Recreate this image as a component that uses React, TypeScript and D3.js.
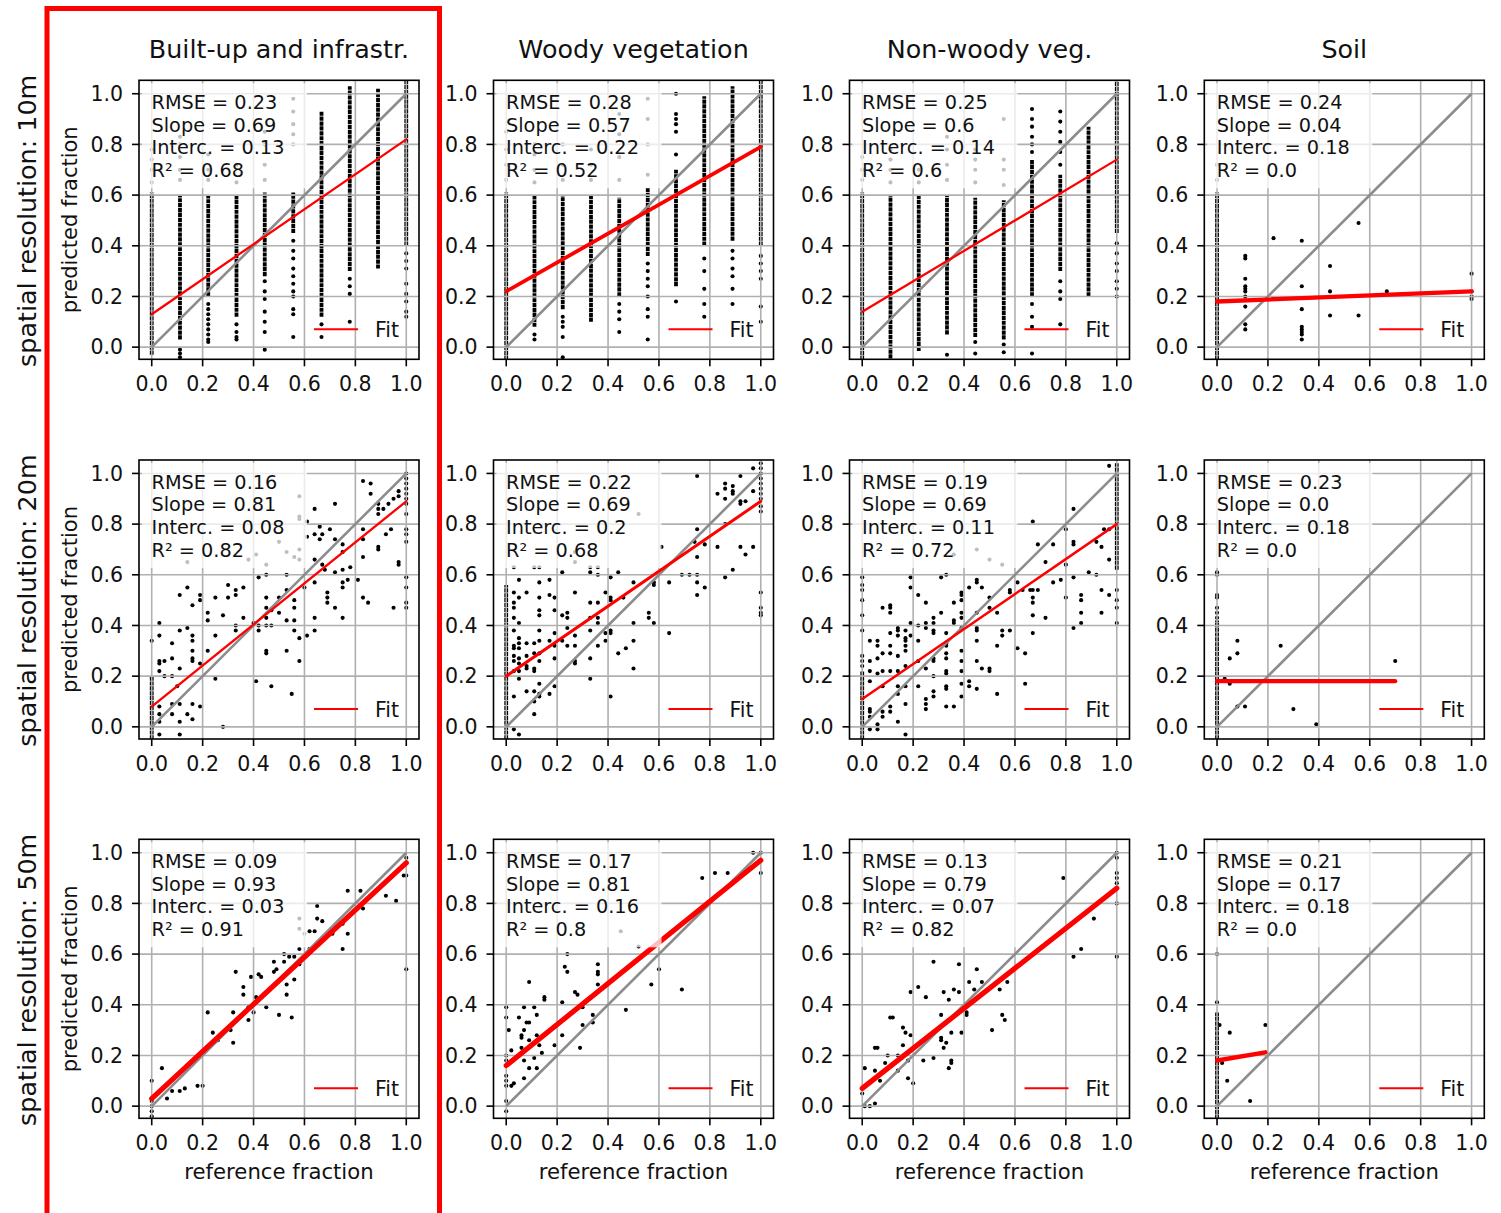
import React from "react";
import * as d3 from "d3";

// ---------------- DATA ----------------
const columnTitles = ["Built-up and infrastr.", "Woody vegetation", "Non-woody veg.", "Soil"];
const rowLabels = ["spatial resolution: 10m", "spatial resolution: 20m", "spatial resolution: 50m"];
const tickValues = [0, 0.2, 0.4, 0.6, 0.8, 1.0];

const rmseValues = [[0.23, 0.28, 0.25, 0.24], [0.16, 0.22, 0.19, 0.23], [0.09, 0.17, 0.13, 0.21]];
const slopeValues = [[0.69, 0.57, 0.6, 0.04], [0.81, 0.69, 0.69, 0.0], [0.93, 0.81, 0.79, 0.17]];
const intercValues = [[0.13, 0.22, 0.14, 0.18], [0.08, 0.2, 0.11, 0.18], [0.03, 0.16, 0.07, 0.18]];
const r2Values = [[0.68, 0.52, 0.6, 0.0], [0.82, 0.68, 0.72, 0.0], [0.91, 0.8, 0.82, 0.0]];

// dense runs of overlapping points: [x, yFrom, yTo]
const builtUp10Runs = [[0, -0.03, 0.61], [0.111, 0.03, 0.6], [0.222, 0.2, 0.6], [0.333, 0.12, 0.6], [0.444, 0.28, 0.61], [0.556, 0.45, 0.61], [0.667, 0.12, 0.93], [0.778, 0.3, 1.03], [0.889, 0.31, 1.02], [1, 0.4, 1.06]];
const woody10Runs = [[0, -0.05, 0.61], [0.111, 0.08, 0.6], [0.222, 0.15, 0.6], [0.333, 0.1, 0.6], [0.444, 0.2, 0.59], [0.556, 0.36, 0.63], [0.667, 0.24, 0.7], [0.778, 0.4, 0.99], [0.889, 0.42, 1.03], [1, 0.4, 1.06]];
const nonWoody10Runs = [[0, -0.05, 0.61], [0.111, -0.045, 0.6], [0.222, -0.015, 0.6], [0.333, 0.05, 0.6], [0.444, 0.04, 0.59], [0.556, 0.03, 0.58], [0.667, 0.2, 0.74], [0.778, 0.3, 0.68], [0.889, 0.2, 0.87], [1, 0.45, 1.06]];
const soil10Runs = [[0, -0.05, 0.61]];
const builtUp20Runs = [[0, -0.05, 0.2]];
const woody20Runs = [[0, -0.05, 0.56]];
const nonWoody20Runs = [[0, -0.05, 0.22], [1, 0.62, 1.04]];
const soil20Runs = [[0, -0.05, 0.42]];
const builtUp50Runs = [];
const woody50Runs = [];
const nonWoody50Runs = [];
const soil50Runs = [[0, -0.05, 0.37]];

// single points grouped by column (10m): [x, [y...]]
const builtUp10Cols = [
  [0, [0.65, 0.7, 0.74, 0.78]],
  [0.111, [-0.01, -0.025, -0.04, 0.66, 0.7, 0.75, 0.8, 0.83]],
  [0.222, [0.17, 0.15, 0.13, 0.11, 0.09, 0.07, 0.05, 0.03, 0.02, 0.66, 0.7, 0.76]],
  [0.333, [0.09, 0.06, 0.04, 0.03, 0.65, 0.72]],
  [0.444, [0.26, 0.22, 0.19, 0.14, 0.1, 0.06, -0.01, 0.66, 0.72, 0.8, 0.85]],
  [0.556, [0.42, 0.38, 0.35, 0.31, 0.28, 0.25, 0.22, 0.2, 0.15, 0.13, 0.04, 0.8, 0.84, 0.88, 0.93, 0.98]],
  [0.667, [0.09, 0.04]],
  [0.778, [0.27, 0.24, 0.21, 0.1]],
  [1, [0.37, 0.34, 0.31, 0.25, 0.21, 0.18, 0.14, 0.12]],
];
const woody10Cols = [
  [0, [0.66, 0.72, 0.78, 0.85]],
  [0.111, [0.05, 0.03, 0.65, 0.7, 0.76, 0.8]],
  [0.222, [0.12, 0.1, 0.08, 0.04, -0.04, 0.66, 0.72, 0.8]],
  [0.333, [0.66, 0.72, 0.78]],
  [0.444, [0.17, 0.14, 0.11, 0.06, 0.66, 0.75, 0.84, 0.92]],
  [0.556, [0.33, 0.3, 0.27, 0.24, 0.2, 0.15, 0.12, 0.03, 0.68, 0.8, 0.9, 0.98]],
  [0.667, [1.0, 0.92, 0.9, 0.88, 0.85, 0.76, 0.18]],
  [0.778, [0.35, 0.3, 0.23, 0.17, 0.12]],
  [0.889, [0.38, 0.35, 0.31, 0.28, 0.23, 0.17]],
  [1, [0.36, 0.33, 0.3, 0.27, 0.16, 0.1]],
];
const nonWoody10Cols = [
  [0, [0.66, 0.7, 0.75]],
  [0.111, [0.65, 0.7, 0.74, 0.78]],
  [0.222, [0.65, 0.7]],
  [0.333, [-0.03, 0.66, 0.72, 0.78, 0.83]],
  [0.444, [0.02, -0.025, 0.65, 0.7, 0.74, 0.78]],
  [0.556, [0.01, -0.02, 0.64, 0.7, 0.74, 0.9]],
  [0.667, [0.94, 0.9, 0.87, 0.83, 0.8, 0.77, 0.17, 0.12, 0.08, -0.025]],
  [0.778, [0.93, 0.89, 0.85, 0.81, 0.77, 0.72, 0.26, 0.22, 0.19, 0.09]],
  [1, [0.41, 0.37, 0.33, 0.3, 0.26, 0.23, 0.2]],
];
const soil10Cols = [
  [0, [0.66, 0.72]],
  [0.111, [0.36, 0.35, 0.27, 0.24, 0.23, 0.22, 0.2, 0.16, 0.09, 0.07]],
  [0.222, [0.43, 0.19]],
  [0.333, [0.42, 0.24, 0.15, 0.08, 0.07, 0.06, 0.05, 0.03]],
  [0.444, [0.32, 0.22, 0.125]],
  [0.556, [0.49, 0.125]],
  [0.667, [0.22]],
  [1, [0.29, 0.22, 0.2, 0.19]],
];

// scattered points: [x, y]
const builtUp20Points = [
  [0.83, 0.97], [0.86, 0.96], [0.86, 0.92], [0.97, 0.93], [0.97, 0.91], [0.95, 0.9], [0.93, 0.88], [0.89, 0.88], [0.89, 0.86], [0.89, 0.84], [0.91, 0.86], [0.72, 0.88], [0.58, 0.91], [0.58, 0.83], [0.58, 0.82], [0.64, 0.86], [0.61, 0.81], [0.83, 0.78], [0.94, 0.78], [0.83, 0.74], [0.92, 0.76], [0.89, 0.71], [0.89, 0.7], [0.97, 0.65], [0.97, 0.64], [0.83, 0.67], [0.75, 0.72], [0.66, 0.79], [0.7, 0.78], [0.67, 0.76], [0.64, 0.76], [0.61, 0.75], [0.66, 0.74], [0.72, 0.74], [0.75, 0.69], [0.58, 0.7], [0.58, 0.66], [0.64, 0.66], [0.67, 0.64], [0.68, 0.62], [0.72, 0.61], [0.78, 0.63], [0.75, 0.62], [0.77, 0.58], [0.75, 0.57], [0.75, 0.55], [0.81, 0.58], [0.83, 0.51], [0.85, 0.49], [0.95, 0.47],
  [0.69, 0.53], [0.69, 0.51], [0.69, 0.49], [0.72, 0.47], [0.75, 0.43], [0.64, 0.57], [0.6, 0.55], [0.64, 0.43], [0.64, 0.38], [0.61, 0.36], [0.58, 0.35], [0.58, 0.26], [0.56, 0.5], [0.56, 0.47], [0.56, 0.42], [0.56, 0.38], [0.53, 0.42], [0.53, 0.54], [0.53, 0.6], [0.56, 0.67], [0.55, 0.13], [0.53, 0.3], [0.5, 0.51], [0.5, 0.45], [0.47, 0.46], [0.47, 0.4], [0.45, 0.6], [0.42, 0.59], [0.45, 0.51], [0.45, 0.47], [0.45, 0.43], [0.45, 0.4], [0.45, 0.3], [0.45, 0.29], [0.42, 0.4], [0.42, 0.38], [0.4, 0.41], [0.47, 0.16], [0.41, 0.18], [0.36, 0.55], [0.33, 0.54], [0.33, 0.52], [0.33, 0.4], [0.33, 0.38], [0.36, 0.43], [0.3, 0.56], [0.3, 0.51], [0.28, 0.44], [0.25, 0.36], [0.25, 0.51], [0.25, 0.19], [0.22, 0.45], [0.22, 0.42], [0.22, 0.3], [0.19, 0.52], [0.19, 0.5], [0.16, 0.48], [0.16, 0.36], [0.16, 0.34], [0.16, 0.3], [0.16, 0.27], [0.16, 0.26], [0.19, 0.25], [0.14, 0.55], [0.11, 0.52], [0.11, 0.38], [0.14, 0.39], [0.08, 0.33], [0.08, 0.27], [0.11, 0.23], [0.05, 0.26], [0.03, 0.26], [0.03, 0.25], [0.03, 0.36], [0.03, 0.41], [0, 0.34], [0.03, 0.22], [0.05, 0.2], [0.08, 0.2], [0.1, 0.16], [0.11, 0.09], [0.08, 0.09], [0.08, 0.05], [0.11, 0.02], [0.14, 0.05], [0.16, 0.09], [0.19, 0.08], [0.16, 0.03], [0.03, 0.08], [0.03, 0.05], [0.03, 0.02], [0.03, -0.03], [0.11, -0.03], [0.28, 0],
  [0.14, 0.65], [0.38, 0.66], [0.41, 0.68], [0.45, 0.64], [0.5, 0.73], [0.53, 0.69],
  [1, 1.0], [1, 0.98], [1, 0.96], [1, 0.94], [1, 0.92], [1, 0.9], [1, 0.88], [1, 0.84], [1, 0.78], [1, 0.76], [1, 0.73], [1, 0.59], [1, 0.55], [1, 0.49], [1, 0.47],
];
const woody20Points = [
  [0.97, 1.02], [0.75, 0.99], [0.89, 0.95], [0.86, 0.96], [0.86, 0.94], [0.89, 0.93], [0.89, 0.92], [0.83, 0.92], [0.92, 0.89], [0.92, 0.88], [0.97, 0.93], [0.94, 0.89], [0.86, 0.9], [0.92, 0.99], [0.86, 0.8], [0.75, 0.78], [0.78, 0.72], [0.74, 0.73], [0.61, 0.71], [0.83, 0.71], [0.92, 0.71], [0.97, 0.71], [0.94, 0.68], [0.89, 0.62], [0.86, 0.59], [0.75, 0.67], [0.78, 0.55], [0.75, 0.57], [0.75, 0.52], [0.69, 0.6], [0.72, 0.6], [0.75, 0.6], [0.64, 0.57], [0.64, 0.37], [0.58, 0.57], [0.58, 0.56], [0.56, 0.45], [0.56, 0.43], [0.58, 0.41], [0.5, 0.57], [0.46, 0.51], [0.5, 0.41], [0.5, 0.34], [0.5, 0.23], [0.47, 0.31], [0.44, 0.29], [0.41, 0.59], [0.41, 0.51], [0.41, 0.5], [0.41, 0.38], [0.41, 0.37], [0.41, 0.12], [0.39, 0.53], [0.39, 0.37], [0.39, 0.34], [0.36, 0.49], [0.36, 0.43], [0.36, 0.41], [0.36, 0.32], [0.36, 0.6], [0.33, 0.61], [0.33, 0.49], [0.33, 0.38], [0.33, 0.27], [0.33, 0.19], [0.33, 0.43], [0.44, 0.61], [0.27, 0.53], [0.27, 0.36], [0.27, 0.32], [0.27, 0.26], [0.27, 0.25], [0.24, 0.45], [0.24, 0.43], [0.24, 0.39], [0.22, 0.44], [0.22, 0.34], [0.24, 0.32], [0.19, 0.51], [0.19, 0.46], [0.19, 0.37], [0.19, 0.32], [0.19, 0.27], [0.19, 0.16], [0.17, 0.58], [0.17, 0.52], [0.17, 0.34], [0.17, 0.13], [0.13, 0.57], [0.13, 0.51], [0.13, 0.46], [0.13, 0.44], [0.13, 0.38], [0.13, 0.34], [0.13, 0.29], [0.13, 0.26], [0.13, 0.17], [0.13, 0.13], [0.13, 0.12], [0.11, 0.33], [0.11, 0.29], [0.11, 0.23], [0.11, 0.22], [0.11, 0.14], [0.11, 0.1], [0.11, 0.05], [0.08, 0.53], [0.08, 0.33], [0.08, 0.28], [0.08, 0.24], [0.08, 0.23], [0.08, 0.14], [0.05, 0.58], [0.05, 0.51], [0.05, 0.41], [0.05, 0.35], [0.05, 0.33], [0.05, 0.31], [0.05, 0.27], [0.05, 0.25], [0.05, 0.22], [0.05, 0.19], [0.05, -0.03], [0.03, 0.53], [0.03, 0.49], [0.03, 0.47], [0.03, 0.43], [0.03, 0.38], [0.03, 0.32], [0.03, 0.31], [0.03, 0.28], [0.03, 0.26], [0.03, 0.22], [0.03, 0.12], [0.03, -0.01],
  [0.03, 0.63], [0.11, 0.63], [0.13, 0.63], [0.27, 0.65], [0.27, 0.69], [0.22, 0.61], [0.33, 0.63], [0.36, 0.63], [0.52, 0.84],
  [1, 1.04], [1, 1.02], [1, 1.0], [1, 0.98], [1, 0.96], [1, 0.94], [1, 0.92], [1, 0.9], [1, 0.87], [1, 0.85], [1, 0.53], [1, 0.47], [1, 0.45], [1, 0.44],
];
const nonWoody20Points = [
  [0.97, 1.03], [0.83, 0.86], [0.67, 0.81], [0.8, 0.78], [0.83, 0.73], [0.83, 0.72], [0.92, 0.73], [0.97, 0.78], [0.95, 0.78], [0.69, 0.72], [0.75, 0.72], [0.94, 0.71], [0.97, 0.66], [0.72, 0.65], [0.8, 0.64], [0.89, 0.61], [0.92, 0.6], [0.83, 0.59], [0.78, 0.58], [0.75, 0.57], [0.61, 0.57], [0.58, 0.54], [0.58, 0.53], [0.67, 0.54], [0.66, 0.54], [0.69, 0.54], [0.8, 0.51], [0.86, 0.52], [0.86, 0.5], [0.86, 0.45], [0.86, 0.41], [0.83, 0.39], [0.94, 0.54], [0.97, 0.52], [0.94, 0.45], [0.67, 0.51], [0.67, 0.49], [0.67, 0.44], [0.67, 0.37], [0.72, 0.43], [0.63, 0.54], [0.55, 0.38], [0.55, 0.36], [0.58, 0.38], [0.61, 0.31], [0.64, 0.29], [0.64, 0.17], [0.53, 0.45], [0.53, 0.32], [0.53, 0.13], [0.5, 0.47], [0.5, 0.51], [0.5, 0.23], [0.5, 0.22], [0.47, 0.55], [0.47, 0.23], [0.45, 0.58], [0.45, 0.57], [0.45, 0.45], [0.45, 0.39], [0.45, 0.38], [0.45, 0.34], [0.45, 0.26], [0.45, 0.15], [0.42, 0.55], [0.42, 0.18], [0.42, 0.16], [0.39, 0.53], [0.39, 0.52], [0.39, 0.5], [0.39, 0.45], [0.39, 0.43], [0.39, 0.39], [0.39, 0.3], [0.39, 0.26], [0.39, 0.22], [0.39, 0.17], [0.39, 0.12], [0.36, 0.49], [0.36, 0.42], [0.36, 0.41], [0.36, 0.08], [0.33, 0.6], [0.33, 0.37], [0.33, 0.33], [0.33, 0.32], [0.33, 0.29], [0.33, 0.27], [0.33, 0.22], [0.33, 0.21], [0.33, 0.16], [0.33, 0.15], [0.33, 0.08], [0.31, 0.59], [0.31, 0.45], [0.28, 0.43], [0.28, 0.41], [0.28, 0.38], [0.28, 0.37], [0.28, 0.27], [0.28, 0.26], [0.28, 0.2], [0.28, 0.14], [0.28, 0.12], [0.25, 0.49], [0.25, 0.41], [0.25, 0.39], [0.25, 0.23], [0.25, 0.11], [0.25, 0.09], [0.25, 0.07], [0.22, 0.52], [0.22, 0.4], [0.22, 0.34], [0.22, 0.26], [0.22, 0.16], [0.19, 0.59], [0.19, 0.55], [0.19, 0.41], [0.19, 0.36], [0.17, 0.38], [0.17, 0.35], [0.17, 0.34], [0.17, 0.32], [0.17, 0.3], [0.17, 0.24], [0.17, 0.16], [0.17, 0.09], [0.17, -0.03], [0.14, 0.39], [0.14, 0.38], [0.14, 0.36], [0.14, 0.28], [0.14, 0.22], [0.14, 0.16], [0.14, 0.13], [0.14, 0.02], [0.11, 0.48], [0.11, 0.47], [0.11, 0.45], [0.11, 0.37], [0.11, 0.32], [0.11, 0.29], [0.11, 0.22], [0.11, 0.08], [0.11, 0.06], [0.08, 0.47], [0.08, 0.29], [0.08, 0.22], [0.08, 0.16], [0.08, 0.06], [0.08, 0.04], [0.06, 0.34], [0.06, 0.32], [0.06, 0.27], [0.06, 0.21], [0.06, 0.01], [0.06, -0.01], [0.03, 0.34], [0.03, 0.26], [0.03, 0.22], [0.03, 0.18], [0.03, 0.07], [0.03, 0.06], [0.03, 0.04], [0.03, -0.01],
  [0.36, 0.68], [0.45, 0.7], [0.5, 0.66], [0.55, 0.64],
  [0, 0.59], [0, 0.56], [0, 0.54], [0, 0.5], [0, 0.44], [0, 0.38], [0, 0.28], [0, 0.26], [0, 0.24],
  [1, 0.54], [1, 0.5], [1, 0.47], [1, 0.41],
];
const soil20Points = [
  [0, 0.43], [0, 0.45], [0, 0.47], [0, 0.51], [0, 0.52], [0, 0.6], [0, 0.61],
  [0.08, 0.34], [0.08, 0.29], [0.05, 0.27], [0.25, 0.32], [0.7, 0.26], [0.03, 0.19], [0.05, 0.17], [0.08, 0.08], [0.11, 0.08], [0.3, 0.07], [0.39, 0.01],
];
const builtUp50Points = [
  [1, 0.98], [0.99, 0.91], [1, 0.91], [1, 0.54], [0.92, 0.83], [0.96, 0.81], [0.77, 0.85], [0.82, 0.85], [0.83, 0.78], [0.65, 0.79], [0.58, 0.74], [0.65, 0.74], [0.67, 0.73], [0.58, 0.7], [0.6, 0.68], [0.62, 0.69], [0.64, 0.69], [0.71, 0.68], [0.77, 0.68], [0.75, 0.72], [0.75, 0.62], [0.58, 0.62], [0.56, 0.59], [0.58, 0.56], [0.56, 0.5], [0.52, 0.6], [0.52, 0.57], [0.53, 0.48], [0.53, 0.44], [0.54, 0.59], [0.48, 0.57], [0.49, 0.54], [0.48, 0.53], [0.5, 0.36], [0.55, 0.35], [0.42, 0.52], [0.43, 0.51], [0.39, 0.51], [0.4, 0.37], [0.45, 0.39], [0.41, 0.43], [0.38, 0.39], [0.38, 0.34], [0.36, 0.47], [0.36, 0.44], [0.33, 0.53], [0.32, 0.37], [0.32, 0.25], [0.31, 0.3], [0.26, 0.26], [0.24, 0.29], [0.25, 0.26], [0.22, 0.37], [0.27, 0.28], [0.62, 0.62], [0.2, 0.08], [0.18, 0.08], [0.13, 0.07], [0.11, 0.06], [0.08, 0.06], [0.06, 0.03], [0.04, 0.15], [0, 0.1], [0, 0.02], [0, 0], [0, -0.02], [0, -0.04],
];
const woody50Points = [
  [0.97, 1.0], [1, 1.0], [1, 0.92], [0.77, 0.9], [0.82, 0.92], [0.87, 0.92], [0.93, 0.92], [0.45, 0.69], [0.52, 0.63], [0.24, 0.6], [0.6, 0.54], [0.57, 0.48], [0.69, 0.46], [0.47, 0.38], [0.36, 0.56], [0.36, 0.53], [0.36, 0.52], [0.36, 0.48], [0.34, 0.36], [0.34, 0.33], [0.3, 0.32], [0.3, 0.39], [0.27, 0.45], [0.28, 0.44], [0.29, 0.23], [0.23, 0.55], [0.24, 0.53], [0.22, 0.41], [0.22, 0.28], [0.19, 0.24], [0.15, 0.43], [0.15, 0.42], [0.14, 0.21], [0.13, 0.24], [0.12, 0.28], [0.12, 0.36], [0.11, 0.19], [0.09, 0.49], [0.07, 0.39], [0.11, 0.39], [0.05, 0.35], [0.08, 0.33], [0.09, 0.33], [0.07, 0.3], [0.06, 0.28], [0.06, 0.27], [0.01, 0.3], [0.06, 0.23], [0.09, 0.26], [0.07, 0.18], [0.09, 0.15], [0.12, 0.15], [0.07, 0.11], [0.02, 0.22], [0.03, 0.09], [0.02, 0.08],
  [0, 0.39], [0, 0.35], [0, 0.2], [0, 0.18], [0, 0.12], [0, 0.1], [0, 0.08], [0, 0.02], [0, -0.02],
];
const nonWoody50Points = [
  [1, 1.0], [1, 0.98], [1, 0.92], [1, 0.9], [1, 0.88], [1, 0.8], [1, 0.59], [0.79, 0.9], [0.91, 0.74], [0.71, 0.63], [0.83, 0.59], [0.86, 0.62], [0.28, 0.57], [0.38, 0.56], [0.45, 0.54], [0.47, 0.49], [0.42, 0.49], [0.54, 0.46], [0.57, 0.49], [0.44, 0.46], [0.32, 0.45], [0.36, 0.46], [0.38, 0.45], [0.19, 0.45], [0.22, 0.47], [0.25, 0.43], [0.34, 0.42], [0.41, 0.37], [0.41, 0.36], [0.55, 0.36], [0.56, 0.34], [0.51, 0.3], [0.39, 0.29], [0.35, 0.29], [0.31, 0.36], [0.31, 0.27], [0.31, 0.26], [0.33, 0.25], [0.32, 0.23], [0.35, 0.18], [0.35, 0.17], [0.34, 0.15], [0.28, 0.19], [0.24, 0.18], [0.11, 0.35], [0.12, 0.35], [0.16, 0.31], [0.17, 0.29], [0.19, 0.28], [0.18, 0.18], [0.18, 0.11], [0.2, 0.09], [0.16, 0.24], [0.14, 0.2], [0.1, 0.2], [0.09, 0.17], [0.14, 0.14], [0.05, 0.23], [0.06, 0.23], [0.05, 0.14], [0.07, 0.1], [0.01, 0.15], [0.01, 0], [0.03, 0], [0.05, 0.01], [0, 0.05],
];
const soil50Points = [
  [0, 0.41], [0, 0.6],
  [0.01, 0.32], [0.05, 0.29], [0.02, 0.17], [0.04, 0.1], [0.13, 0.02], [0.19, 0.32],
];

// ---------------- LAYOUT / STYLE ----------------
const W = 1501;
const H = 1213;
const panelLeft = [139, 493.5, 849.5, 1204.3];
const panelTop = [80.3, 460, 839.3];
const PW = 280;
const PH = 279;
const X_DOMAIN = [-0.05, 1.05];
const Y_DOMAIN = [-0.048, 1.053];
const FONT = "'DejaVu Sans', sans-serif";
const fitWidths = [[2.3, 3.8, 2.3, 4.4], [2.3, 3, 2.5, 4.2], [5.2, 5.2, 5.2, 4.4]];

const colsToPoints = (cols) => cols.flatMap(([x, ys]) => ys.map((y) => [x, y]));

const panelRuns = [
  [builtUp10Runs, woody10Runs, nonWoody10Runs, soil10Runs],
  [builtUp20Runs, woody20Runs, nonWoody20Runs, soil20Runs],
  [builtUp50Runs, woody50Runs, nonWoody50Runs, soil50Runs],
];
const panelPoints = [
  [colsToPoints(builtUp10Cols), colsToPoints(woody10Cols), colsToPoints(nonWoody10Cols), colsToPoints(soil10Cols)],
  [builtUp20Points, woody20Points, nonWoody20Points, soil20Points],
  [builtUp50Points, woody50Points, nonWoody50Points, soil50Points],
];

const fmt = (v) => (Number.isInteger(v) ? v.toFixed(1) : String(v));

function Panel({ r, c }) {
  const left = panelLeft[c];
  const top = panelTop[r];
  const x = d3.scaleLinear().domain(X_DOMAIN).range([left, left + PW]);
  const y = d3.scaleLinear().domain(Y_DOMAIN).range([top + PH, top]);
  const runs = panelRuns[r][c];
  const pts = panelPoints[r][c];
  const xs = [...runs.map((d) => d[0]), ...pts.map((d) => d[0])];
  const [x0, x1] = d3.extent(xs);
  const s = slopeValues[r][c];
  const b = intercValues[r][c];
  const line = d3.line();
  const fitPath = line([[x(x0), y(b + s * x0)], [x(x1), y(b + s * x1)]]);
  const diagPath = line([[x(0), y(0)], [x(1), y(1)]]);
  const clipId = `clip-${r}-${c}`;
  const lines = [
    `RMSE = ${fmt(rmseValues[r][c])}`,
    `Slope = ${fmt(slopeValues[r][c])}`,
    `Interc. = ${fmt(intercValues[r][c])}`,
    `R² = ${fmt(r2Values[r][c])}`,
  ];
  const cx = left + PW / 2;
  const cy = top + PH / 2;
  return (
    <g>
      <defs>
        <clipPath id={clipId}>
          <rect x={left} y={top} width={PW} height={PH} />
        </clipPath>
      </defs>
      <g clipPath={`url(#${clipId})`}>
        {runs.map((d, i) => (
          <line key={"r" + i} x1={x(d[0])} x2={x(d[0])} y1={y(d[1])} y2={y(d[2])} stroke="#000" strokeWidth={3.8} strokeDasharray="4.2 0.7" />
        ))}
        {pts.map((d, i) => (
          <circle key={"p" + i} cx={x(d[0])} cy={y(d[1])} r={2.05} fill="#000" />
        ))}
        {tickValues.map((t) => (
          <line key={"gx" + t} x1={x(t)} x2={x(t)} y1={top} y2={top + PH} stroke="#b0b0b0" strokeWidth={1.6} />
        ))}
        {tickValues.map((t) => (
          <line key={"gy" + t} x1={left} x2={left + PW} y1={y(t)} y2={y(t)} stroke="#b0b0b0" strokeWidth={1.6} />
        ))}
        <path d={diagPath} stroke="#8c8c8c" strokeWidth={2.6} fill="none" />
        <path d={fitPath} stroke="#ff0000" strokeWidth={fitWidths[r][c]} fill="none" strokeLinecap="round" />
        <rect x={left + 3} y={top + 3} width={165} height={105} fill="#fff" fillOpacity={0.75} />
      </g>
      {lines.map((t, i) => (
        <text key={"a" + i} x={left + 12.5} y={top + 28.7 + i * 22.6} fontSize={19.3} fontFamily={FONT} fill="#111">
          {t}
        </text>
      ))}
      <line x1={left + PW - 105} x2={left + PW - 61} y1={top + PH - 30} y2={top + PH - 30} stroke="#ff0000" strokeWidth={2} />
      <text x={left + PW - 44} y={top + PH - 22.3} fontSize={20.5} fontFamily={FONT} fill="#111">Fit</text>
      <rect x={left} y={top} width={PW} height={PH} fill="none" stroke="#000" strokeWidth={1.6} />
      {tickValues.map((t) => (
        <g key={"tx" + t}>
          <line x1={x(t)} x2={x(t)} y1={top + PH} y2={top + PH + 7} stroke="#000" strokeWidth={1.6} />
          <text x={x(t)} y={top + PH + 32} textAnchor="middle" fontSize={20.5} fontFamily={FONT} fill="#111">
            {t.toFixed(1)}
          </text>
        </g>
      ))}
      {tickValues.map((t) => (
        <g key={"ty" + t}>
          <line x1={left - 7} x2={left} y1={y(t)} y2={y(t)} stroke="#000" strokeWidth={1.6} />
          <text x={left - 16} y={y(t) + 7.3} textAnchor="end" fontSize={20.5} fontFamily={FONT} fill="#111">
            {t.toFixed(1)}
          </text>
        </g>
      ))}
      {r === 0 && (
        <text x={cx} y={58.3} textAnchor="middle" fontSize={25.4} fontFamily={FONT} fill="#111">
          {columnTitles[c]}
        </text>
      )}
      {r === 2 && (
        <text x={cx} y={top + PH + 61} textAnchor="middle" fontSize={21.2} fontFamily={FONT} fill="#111">
          reference fraction
        </text>
      )}
      {c === 0 && (
        <text transform={`translate(77,${cy}) rotate(-90)`} textAnchor="middle" fontSize={21} fontFamily={FONT} fill="#111">
          predicted fraction
        </text>
      )}
      {c === 0 && (
        <text transform={`translate(36,${cy + 1}) rotate(-90)`} textAnchor="middle" fontSize={25.4} fontFamily={FONT} fill="#111">
          {rowLabels[r]}
        </text>
      )}
    </g>
  );
}

export default function App() {
  const cells = [];
  for (let r = 0; r < 3; r++) for (let c = 0; c < 4; c++) cells.push([r, c]);
  return (
    <svg width={W} height={H} style={{ position: "absolute", left: 0, top: 0, display: "block", background: "#fff" }}>
      <rect x={0} y={0} width={W} height={H} fill="#fff" />
      {cells.map(([r, c]) => (
        <Panel key={`${r}-${c}`} r={r} c={c} />
      ))}
      <rect x={47} y={8.5} width={392.5} height={1260} fill="none" stroke="#ff0000" strokeWidth={5} />
    </svg>
  );
}
